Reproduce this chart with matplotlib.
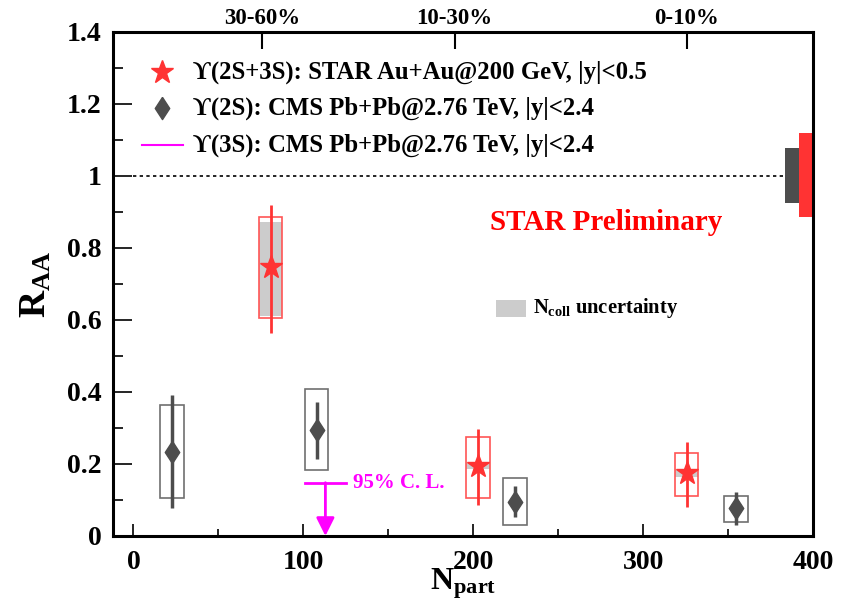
import numpy as np
import matplotlib
matplotlib.use('Agg')
import matplotlib.pyplot as plt
from matplotlib.patches import Rectangle

plt.rcParams['font.family'] = ['Liberation Serif', 'DejaVu Serif']
plt.rcParams['font.weight'] = 'bold'
plt.rcParams['mathtext.fontset'] = 'custom'
plt.rcParams['mathtext.rm'] = 'Liberation Serif:bold'
plt.rcParams['mathtext.bf'] = 'Liberation Serif:bold'
plt.rcParams['mathtext.it'] = 'Liberation Serif:bold'

# STAR Upsilon(2S+3S), Au+Au 200 GeV
star_npart = [80.7, 202.8, 325.6]
star_raa = [0.747, 0.194, 0.174]
star_stat_lo = [0.183, 0.108, 0.093]
star_stat_hi = [0.172, 0.102, 0.088]
star_sys_lo = [0.142, 0.089, 0.062]
star_sys_hi = [0.140, 0.080, 0.057]
star_ncoll_lo = [0.612, 0.185, 0.165]
star_ncoll_hi = [0.873, 0.206, 0.185]

# CMS Upsilon(2S), Pb+Pb 2.76 TeV
cms_npart = [22.8, 107.8, 224.4, 354.8]
cms_raa = [0.234, 0.293, 0.095, 0.077]
cms_stat_lo = [0.157, 0.080, 0.043, 0.046]
cms_stat_hi = [0.158, 0.080, 0.044, 0.046]
cms_sys_lo = [0.129, 0.110, 0.064, 0.037]
cms_sys_hi = [0.130, 0.114, 0.065, 0.035]

# CMS Upsilon(3S) upper limit
cms3s_npart = 113
cms3s_limit = 0.148

# global uncertainties (lo, hi)
cms_global = (0.924, 1.077)
star_global = (0.885, 1.12)

cent_npart = [75.6, 189, 325.6]
cent_labels = ['30-60%', '10-30%', '0-10%']

red = '#ff3333'
dgray = '#4d4d4d'
hw = 7  # half width of the boxes

diamond = [(0, 1), (0.65, 0), (0, -1), (-0.65, 0), (0, 1)]

fig = plt.figure(figsize=(8.46, 6.09), dpi=100)
ax = fig.add_axes([0.1336, 0.1199, 0.8274, 0.8276])

# Ncoll uncertainty (gray) for STAR
for x, lo, hi in zip(star_npart, star_ncoll_lo, star_ncoll_hi):
    ax.add_patch(Rectangle((x - hw, lo), 2 * hw, hi - lo, facecolor='#cccccc', edgecolor='none', zorder=1))

# systematic boxes
for x, y, lo, hi in zip(star_npart, star_raa, star_sys_lo, star_sys_hi):
    ax.add_patch(Rectangle((x - hw, y - lo), 2 * hw, lo + hi, fill=False, edgecolor='#ff5555', lw=1.2, zorder=2))
for x, y, lo, hi in zip(cms_npart, cms_raa, cms_sys_lo, cms_sys_hi):
    ax.add_patch(Rectangle((x - hw, y - lo), 2 * hw, lo + hi, fill=False, edgecolor='#707070', lw=1.2, zorder=2))

ax.errorbar(star_npart, star_raa, yerr=[star_stat_lo, star_stat_hi], fmt='*', color=red,
            ms=17, lw=2, capsize=0, zorder=4)
ax.errorbar(cms_npart, cms_raa, yerr=[cms_stat_lo, cms_stat_hi], fmt='none', ecolor=dgray,
            lw=2.5, capsize=0, zorder=4)
ax.plot(cms_npart, cms_raa, ls='none', marker=diamond, ms=16, color=dgray, zorder=5)

# 3S upper limit
ax.plot([cms3s_npart - 12, cms3s_npart + 12], [cms3s_limit, cms3s_limit], color='magenta', lw=2)
ax.annotate('', xy=(cms3s_npart, 0), xytext=(cms3s_npart, cms3s_limit),
            arrowprops=dict(arrowstyle='-|>,head_length=1.1,head_width=0.55', color='magenta', lw=2,
                            shrinkA=0, shrinkB=0))
ax.text(cms3s_npart + 16, cms3s_limit, '95% C. L.', color='magenta', fontsize=15,
        fontweight='bold', va='center')

# unity line and global uncertainties
ax.plot([0, 383.6], [1, 1], color='black', ls=(0, (2, 2)), lw=1.2)
ax.add_patch(Rectangle((383.6, cms_global[0]), 8, cms_global[1] - cms_global[0], color=dgray, lw=0))
ax.add_patch(Rectangle((391.6, star_global[0]), 8, star_global[1] - star_global[0], color=red, lw=0))

ax.text(210, 0.871, 'STAR Preliminary', color='red', fontsize=21, fontweight='bold', va='center')
ax.add_patch(Rectangle((213.3, 0.608), 18, 0.048, facecolor='#cccccc', edgecolor='none'))
ax.text(235, 0.634, r'N$_{\mathrm{coll}}$ uncertainty', fontsize=14.8, fontweight='bold', va='center')

# legend
rows = [(0.921, dict(marker='*', color=red, ms=17), '\u03d2(2S+3S): STAR Au+Au@200 GeV, |y|<0.5'),
        (0.849, dict(marker=diamond, color=dgray, ms=16), '\u03d2(2S): CMS Pb+Pb@2.76 TeV, |y|<2.4'),
        (0.776, None, '\u03d2(3S): CMS Pb+Pb@2.76 TeV, |y|<2.4')]
for y, style, label in rows:
    if style is None:
        ax.plot([0.041, 0.10], [y, y], color='magenta', lw=1.5, transform=ax.transAxes)
    else:
        ax.plot([0.070], [y], ls='none', transform=ax.transAxes, **style)
    ax.text(0.114, y, label, transform=ax.transAxes, fontsize=17.8, fontweight='bold', va='center')

ax.set_xlim(-12, 400)
ax.set_ylim(0, 1.4)
ax.set_xticks([0, 100, 200, 300, 400])
ax.set_xticks(np.arange(0, 400, 50), minor=True)
ax.set_yticks(np.arange(0, 1.41, 0.2))
ax.set_yticklabels(['0', '0.2', '0.4', '0.6', '0.8', '1', '1.2', '1.4'])
ax.set_yticks(np.arange(0.1, 1.4, 0.2), minor=True)
ax.tick_params(axis='both', which='both', direction='in', top=False, right=False, labelsize=20, width=1.2)
ax.tick_params(axis='y', which='major', length=14, pad=8)
ax.tick_params(axis='y', which='minor', length=7)
ax.tick_params(axis='x', which='major', length=9, pad=10)
ax.tick_params(axis='x', which='minor', length=5)
for s in ax.spines.values():
    s.set_linewidth(2.2)

sec = ax.secondary_xaxis('top')
sec.set_xticks(cent_npart)
sec.set_xticklabels(cent_labels)
sec.tick_params(direction='in', length=12, width=1.5, labelsize=16.5, pad=2)

ax.set_ylabel(r'R$_{\mathrm{AA}}$', fontsize=27, fontweight='bold')
ax.yaxis.set_label_coords(-0.085, 0.5)
ax.set_xlabel(r'N$_{\mathrm{part}}$', fontsize=23, fontweight='bold')
ax.xaxis.set_label_coords(0.5, -0.06)

fig.savefig('out.png', dpi=100)
